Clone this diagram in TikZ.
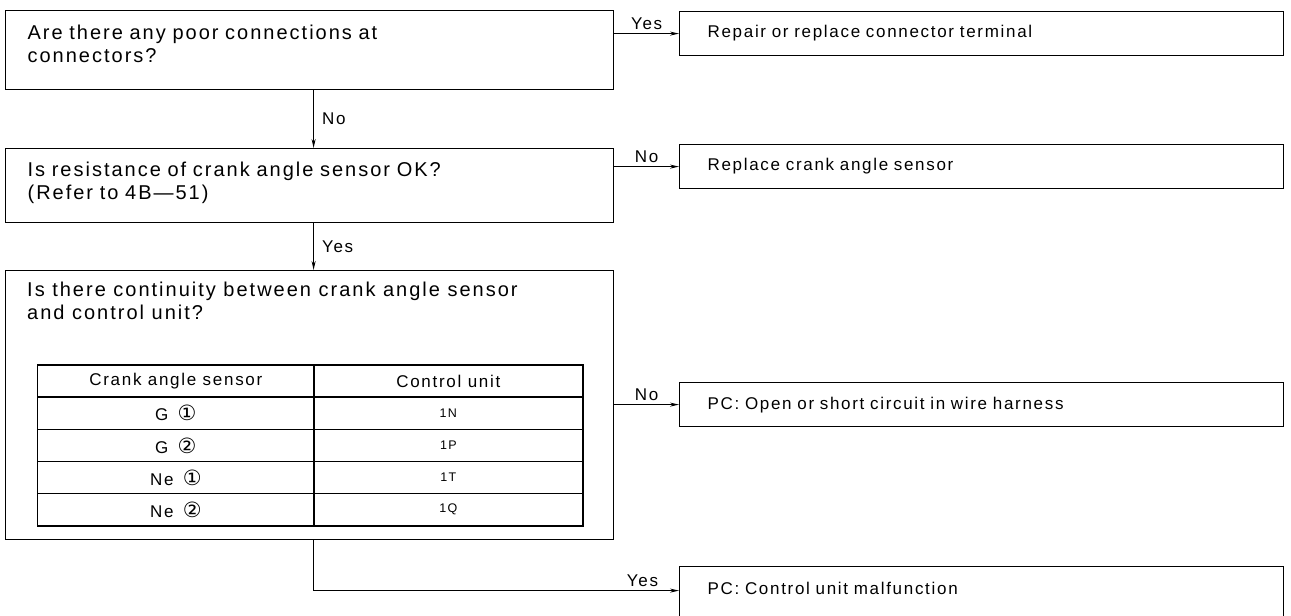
\documentclass[tikz,border=0pt]{standalone}
\usepackage{fontspec}
\setmainfont[LetterSpace=10]{Liberation Sans}
\newfontfamily\circfont{DejaVu Sans}
\usetikzlibrary{arrows.meta,positioning,matrix}

\newcommand\qfont{\fontsize{20pt}{23pt}\selectfont}
\newcommand\rfont{\fontsize{17pt}{21pt}\selectfont}
\newcommand\pinfont{\fontsize{12.5pt}{14pt}\selectfont}
\newcommand\circled[1]{{\circfont\fontsize{21pt}{21pt}\selectfont #1}}

\tikzset{
  qbox/.style={draw, line width=1.2pt, text width=564pt, inner xsep=22pt, align=left, font=\qfont, anchor=north west},
  rbox/.style={draw, line width=1.2pt, text width=548pt, inner xsep=28pt, minimum height=44pt, align=left, font=\rfont, anchor=north west},
  tabcell/.style={draw, line width=1.3pt, minimum height=32.2pt, inner sep=0pt, font=\rfont, anchor=center},
  lbl/.style={font=\rfont, inner sep=3pt},
  flow/.style={line width=0.9pt, -{Stealth[length=9pt, width=4pt]}}
}

\begin{document}
\begin{tikzpicture}[x=1pt, y=-1pt]
    \useasboundingbox (0,0) rectangle (1291,616);
    \clip (0,0) rectangle (1291,616);

    % Questions
    \node[qbox, minimum height=79pt, text depth=35pt] (q1) at (5,10) {Are there any poor connections at\\connectors?};
    \node[qbox, minimum height=74pt, text depth=33pt] (q2) at (5,148) {Is resistance of crank angle sensor OK?\\(Refer to 4B---51)};
    \node[qbox, minimum height=269pt] (q3) at (5,270) {};
    \node[font=\qfont, align=left, inner sep=0pt, anchor=north west] (q3q) at ([xshift=22pt,yshift=-12pt]q3.north west) {Is there continuity between crank angle sensor\\and control unit?};

    % Terminal table
    \matrix (tbl) [matrix of nodes, inner sep=0pt, anchor=north west, column sep=-1.3pt, row sep=-1.3pt,
        nodes={tabcell}, column 1/.style={nodes={minimum width=276pt}}, column 2/.style={nodes={minimum width=269pt}}] at (37,364) {
        Crank angle sensor & Control unit \\
        G\, \circled{①} & {\pinfont 1N} \\
        G\, \circled{②} & {\pinfont 1P} \\
        Ne\, \circled{①} & {\pinfont 1T} \\
        Ne\, \circled{②} & {\pinfont 1Q} \\
    };

    % Results
    \node[rbox] (r1) at (679,11) {Repair or replace connector terminal};
    \node[rbox] (r2) at (679,144) {Replace crank angle sensor};
    \node[rbox] (r3) at (679,382) {PC: Open or short circuit in wire harness};
    \node[rbox, minimum height=60pt, text depth=16pt] (r4) at (679,566) {PC: Control unit malfunction};

    % Connectors
    \draw[flow] (q1.east |- r1.west) -- node[lbl, above]{Yes} (r1.west);
    \draw[flow] ([xshift=4pt]q1.south) -- node[lbl, right, inner xsep=8pt]{No} ([xshift=4pt]q2.north);
    \draw[flow] (q2.east |- r2.west) -- node[lbl, above]{No} (r2.west);
    \draw[flow] ([xshift=4pt]q2.south) -- node[lbl, right, inner xsep=8pt]{Yes} ([xshift=4pt]q3.north);
    \draw[flow] (q3.east |- r3.west) -- node[lbl, above]{No} (r3.west);
    \draw[flow] ([xshift=4pt]q3.south) |- node[lbl, above, pos=0.95]{Yes} ([yshift=6pt]r4.west);
\end{tikzpicture}
\end{document}
